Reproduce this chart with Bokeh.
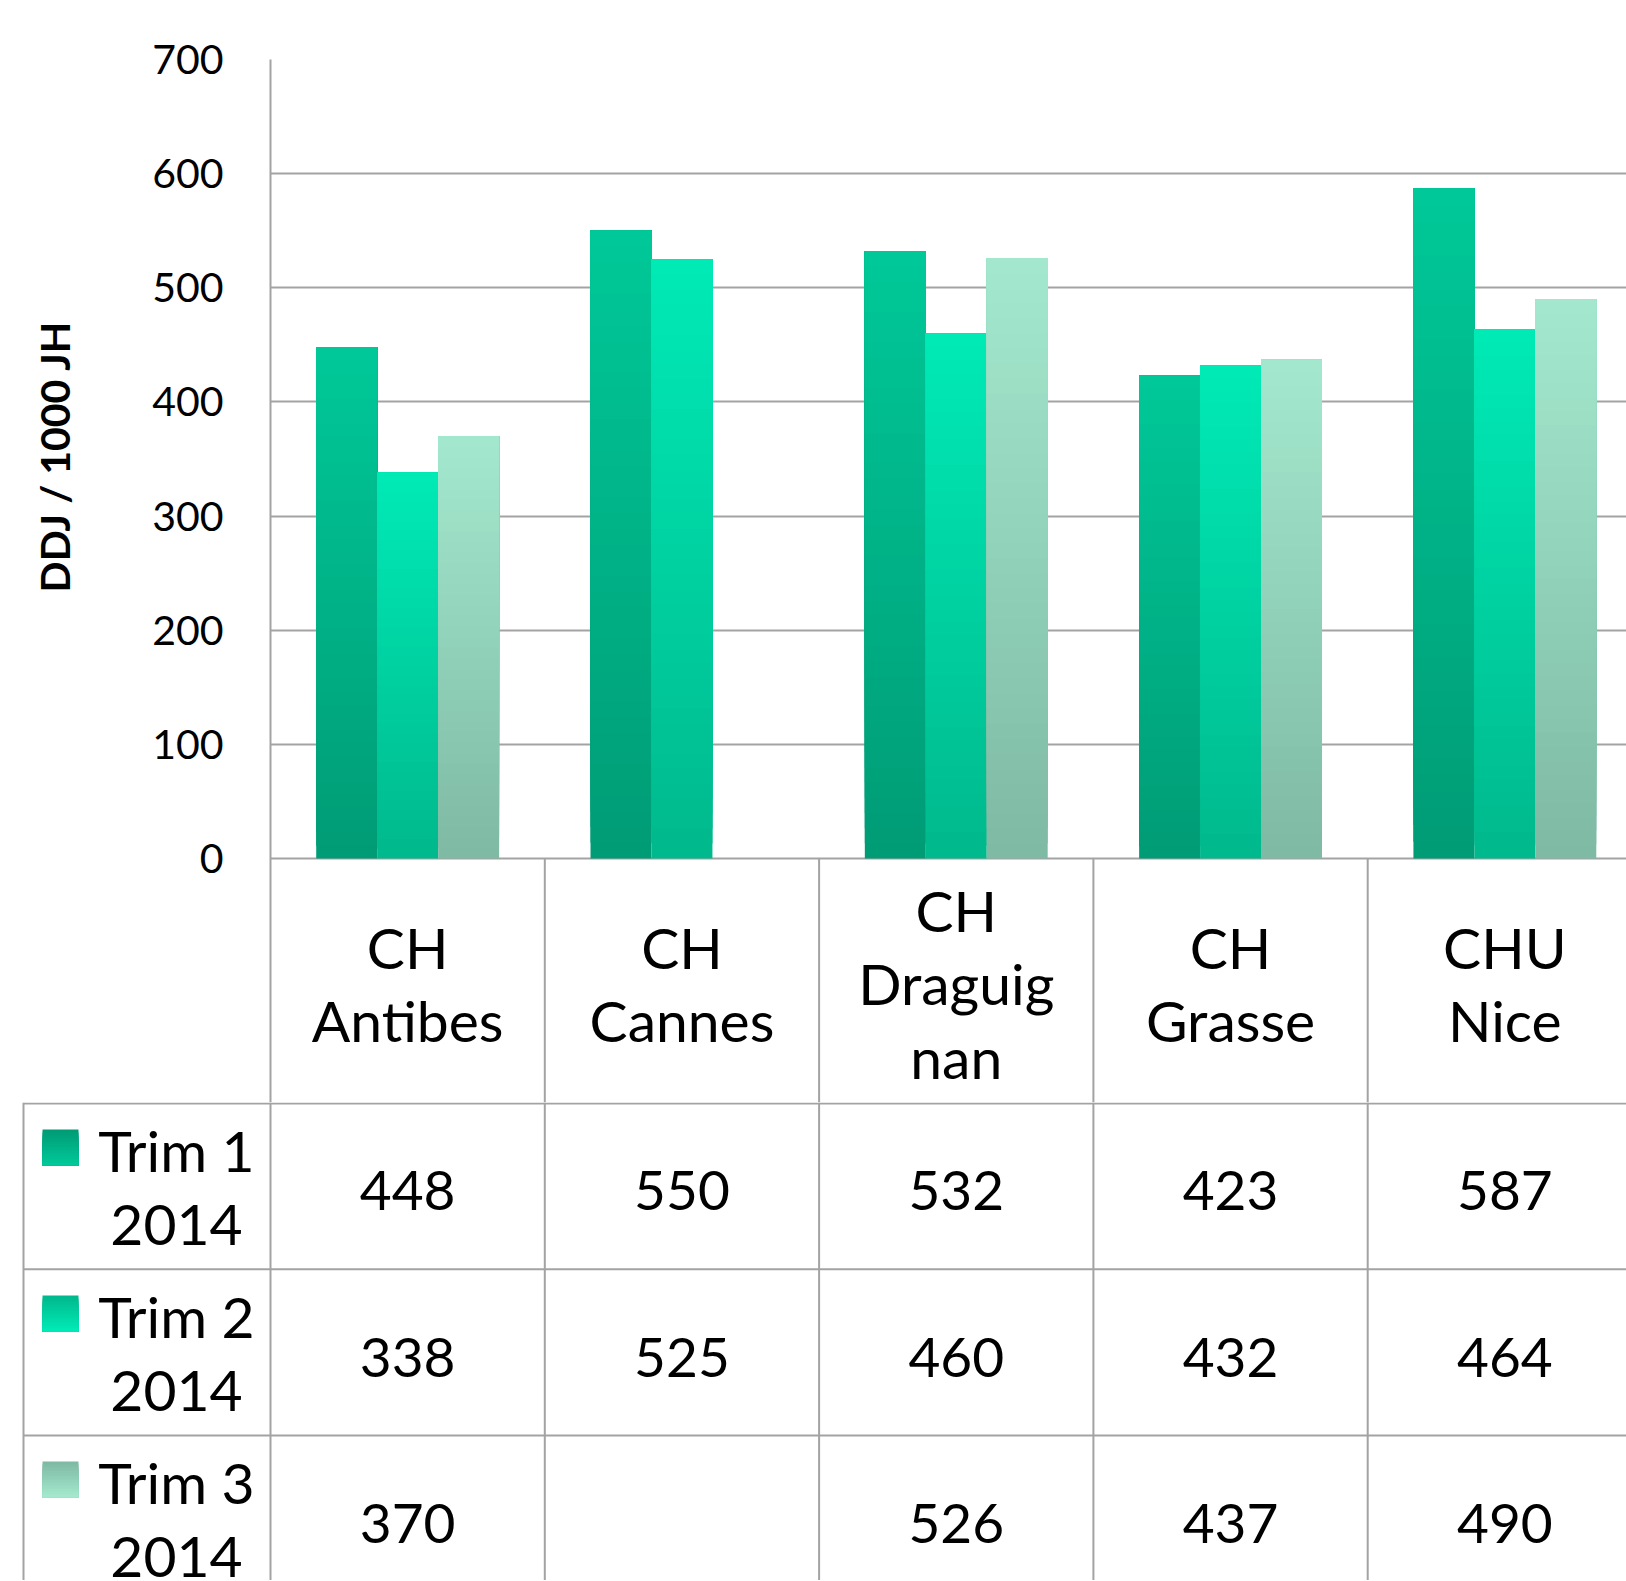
from bokeh.plotting import figure
from bokeh.models import Range1d, FixedTicker, ColumnDataSource, Title
from bokeh.core.properties import value
from bokeh.embed import file_html
from bokeh.resources import INLINE

# ---------------- data ----------------
categories = ["CH Antibes", "CH Cannes", "CH Draguignan", "CH Grasse", "CHU Nice"]
category_labels = ["CH\nAntibes", "CH\nCannes", "CH\nDraguig\nnan", "CH\nGrasse", "CHU\nNice"]
series_names = ["Trim 1 2014", "Trim 2 2014", "Trim 3 2014"]
series_labels = ["Trim 1\n2014", "Trim 2\n2014", "Trim 3\n2014"]
trim1 = [448, 550, 532, 423, 587]
trim2 = [338, 525, 460, 432, 464]
trim3 = [370, None, 526, 437, 490]
series_values = [trim1, trim2, trim3]
y_ticks = [0, 100, 200, 300, 400, 500, 600, 700]
y_axis_title = "DDJ / 1000 JH"

# ---------------- styling ----------------
grad_top = ["#00C898", "#00EAB6", "#A3E8CE"]
grad_bot = ["#009C76", "#00B98D", "#7FBAA4"]
GRID = "#A3A3A3"
FONT = "Lato"
FS_TXT = "57px"
FS_NUM = "55px"
LH = 1.08
N = 40

def hex2rgb(h):
    h = h.lstrip("#")
    return tuple(int(h[i:i + 2], 16) for i in (0, 2, 4))

def mix(c1, c2, t):
    a, b = hex2rgb(c1), hex2rgb(c2)
    return "#%02x%02x%02x" % tuple(round(a[i] + (b[i] - a[i]) * t) for i in range(3))

# layout (page pixels)
PAGE = 0
W = 1626
TOTAL_H = 1580
FRAME_L = 270
FRAME_R = PAGE + W
COLW = 274.3
PLOT_TOP = 59          # page y of 700
ZERO_Y = 858           # page y of 0
HEADER_BOT = 1102      # page y of bottom of category header row
TOP_H = HEADER_BOT - PAGE
TAB_TOP = PAGE + TOP_H
TAB_H = TOTAL_H - TOP_H
PX_PER_UNIT = (ZERO_Y - PLOT_TOP) / 700.0
x_end = -0.5 + (FRAME_R - FRAME_L) / COLW
bw = 1 / 4.5

def px2x(px):
    return -0.5 + (px - FRAME_L) / COLW

def py2v(py):
    return (ZERO_Y - py) / PX_PER_UNIT

# ---------------- top chart (bars + category header row) ----------------
p = figure(width=W, height=TOP_H, output_backend="svg", toolbar_location=None,
           x_range=Range1d(-0.5, x_end), y_range=Range1d(py2v(HEADER_BOT), 700),
           min_border_left=FRAME_L - PAGE, min_border_right=0,
           min_border_top=PLOT_TOP - PAGE, min_border_bottom=0)
p.outline_line_color = None
p.xaxis.visible = False
p.xgrid.visible = False
p.ygrid.ticker = FixedTicker(ticks=y_ticks)
p.ygrid.grid_line_color = GRID
p.ygrid.grid_line_width = 2

yax = p.yaxis[0]
yax.ticker = FixedTicker(ticks=y_ticks)
yax.axis_line_color = GRID
yax.axis_line_width = 2
yax.major_tick_line_color = None
yax.minor_tick_line_color = None
yax.major_tick_out = 0
yax.major_label_standoff = 47
yax.major_label_text_font = FONT
yax.major_label_text_font_size = "41px"
yax.major_label_text_color = "#000000"

# y axis title beside the axis (centred on the 0-700 value range);
# the blank second line pushes the title away from the tick labels
p.add_layout(Title(text=y_axis_title + "\n\u00a0", align="left", vertical_align="middle",
                   offset=510, standoff=41, text_font=FONT, text_font_style="bold",
                   text_font_size="41px", text_color="#000000"), "left")

for s, vals in enumerate(series_values):
    xs, bots, tops, cols = [], [], [], []
    for i, v in enumerate(vals):
        if v is None:
            continue
        for k in range(N):
            xs.append(i + (s - 1) * bw)
            bots.append(v * k / N)
            tops.append(v)
            cols.append(mix(grad_bot[s], grad_top[s], k / (N - 1)))
    src = ColumnDataSource(dict(x=xs, bottom=bots, top=tops, color=cols))
    p.vbar(x="x", width=bw, bottom="bottom", top="top", fill_color="color",
           line_color=None, source=src)

# header row: column dividers and category names
vx = [0.5 + j for j in range(len(categories) - 1)]
p.segment(x0=vx, x1=vx, y0=[0] * len(vx), y1=[py2v(HEADER_BOT + 2)] * len(vx),
          line_color=GRID, line_width=2)
p.text(x=list(range(len(categories))), y=[py2v(983)] * len(categories), text=category_labels,
       text_align="center", text_baseline="middle", text_font=value(FONT),
       text_font_size=FS_TXT, text_line_height=LH, text_color="#000000")

# ---------------- data table rows ----------------
t = figure(width=W, height=TAB_H, output_backend="svg", toolbar_location=None,
           x_range=Range1d(px2x(PAGE), x_end), y_range=Range1d(TAB_H, 0),
           min_border_left=0, min_border_right=0, min_border_top=0, min_border_bottom=0)
t.outline_line_color = None
t.axis.visible = False
t.grid.visible = False

def ly(page_y):
    return page_y - TAB_TOP

row_lines = [1103.0, 1268.7, 1435.0]
x_left = px2x(23)
t.segment(x0=[x_left] * 3, x1=[x_end] * 3, y0=[ly(r) for r in row_lines],
          y1=[ly(r) for r in row_lines], line_color=GRID, line_width=2)
tvx = [-0.5 + j for j in range(len(categories))] + [x_left]
t.segment(x0=tvx, x1=tvx, y0=[0] * len(tvx), y1=[TAB_H] * len(tvx),
          line_color=GRID, line_width=2)

# values
row_centers = [1190, 1357, 1523]
for s, vals in enumerate(series_values):
    xs = [i for i, v in enumerate(vals) if v is not None]
    txt = [str(v) for v in vals if v is not None]
    t.text(x=xs, y=[ly(row_centers[s])] * len(xs), text=txt,
           text_align="center", text_baseline="middle", text_font=value(FONT),
           text_font_size=FS_NUM, text_color="#000000")

# legend column
legend_text_centers = [1186, 1352, 1518]
sw_tops = [1129, 1295, 1461]
for s in range(3):
    t.text(x=[px2x(176)], y=[ly(legend_text_centers[s])], text=[series_labels[s]],
           text_align="center", text_baseline="middle", text_font=value(FONT),
           text_font_size=FS_TXT, text_line_height=LH, text_color="#000000")
    M = 12
    sx, sb, st, sc = [], [], [], []
    for k in range(M):
        sx.append(px2x(60))
        sb.append(ly(sw_tops[s] + 36))
        st.append(ly(sw_tops[s] + 36 - 36 * (M - k) / M))
        sc.append(mix(grad_bot[s], grad_top[s], k / (M - 1)))
    t.vbar(x=sx, width=36 / COLW, bottom=sb, top=st, fill_color=sc, line_color=None)

open("out.html", "w").write(file_html([p, t], INLINE))
